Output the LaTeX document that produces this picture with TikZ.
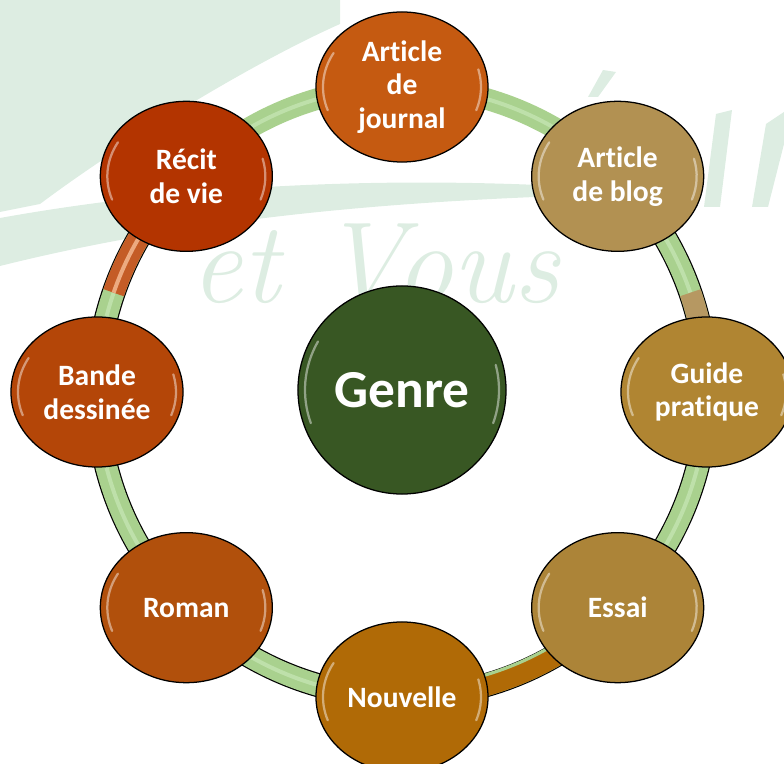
\documentclass[tikz,border=0pt]{standalone}
\usepackage{fontspec}
\usepackage{tikz}
\usetikzlibrary{calc}
\usetikzlibrary{shapes.geometric}
\usetikzlibrary{backgrounds}
\newfontfamily\calibri[Ligatures=NoCommon]{Carlito}
\definecolor{leaf}{RGB}{169, 209, 142}
\definecolor{leaflight}{RGB}{190, 224, 170}
\definecolor{watermark}{RGB}{221, 237, 226}
\definecolor{forest}{RGB}{56, 87, 35}
\definecolor{rust}{RGB}{179, 52, 0}
\definecolor{pumpkin}{RGB}{197, 90, 17}
\definecolor{khaki}{RGB}{178, 145, 82}
\definecolor{ochre}{RGB}{176, 133, 50}
\definecolor{bronze}{RGB}{172, 132, 56}
\definecolor{caramel}{RGB}{176, 106, 6}
\definecolor{copper}{RGB}{177, 80, 12}
\definecolor{brick}{RGB}{180, 70, 8}
\definecolor{copperband}{RGB}{196, 92, 38}
\definecolor{copperlight}{RGB}{236, 170, 128}
\definecolor{tanband}{RGB}{182, 152, 98}

\tikzset{
  bubble/.style={ellipse, draw=black, line width=0.9pt, minimum width=4.3cm, minimum height=3.75cm,
                 inner sep=0pt, text=white, align=center, font=\calibri\bfseries\fontsize{21}{24}\selectfont},
  hub/.style={circle, draw=black, line width=0.9pt, fill=forest, minimum size=5.2cm, inner sep=0pt,
              text=white, font=\calibri\bfseries\fontsize{38}{40}\selectfont},
  bandedge/.style={line width=0.6cm, draw=black},
  band/.style={line width=0.54cm, draw=leaf},
  stripe/.style={line width=0.1cm, draw=leaflight},
  gloss/.style={white, opacity=0.45, line width=1.6pt, line cap=round},
  wmtext/.style={text=watermark, font=\itshape\fontsize{82}{82}\selectfont, anchor=base west, inner sep=0pt},
}

\begin{document}
\begin{tikzpicture}[x=0.025cm, y=0.025cm]
  \useasboundingbox (0,0) rectangle (784,764);
  \coordinate (ring) at (402,372);

  % hub and genres
  \node[hub] (genre) at (402,374) {Genre};
  \node[bubble, fill=pumpkin]  (journal)  at ($(ring)+(90:305)$)   {Article\\de\\journal};
  \node[bubble, fill=khaki]    (blog)     at ($(ring)+(45:305)$)   {Article\\de blog};
  \node[bubble, fill=ochre]    (guide)    at ($(ring)+(0:305)$)    {Guide\\pratique};
  \node[bubble, fill=bronze]   (essai)    at ($(ring)+(-45:305)$)  {Essai};
  \node[bubble, fill=caramel]  (nouvelle) at ($(ring)+(-90:305)$)  {Nouvelle};
  \node[bubble, fill=copper]   (roman)    at ($(ring)+(-135:305)$) {Roman};
  \node[bubble, fill=brick]    (bande)    at ($(ring)+(180:305)$)  {Bande\\dessinée};
  \node[bubble, fill=rust]     (recit)    at ($(ring)+(135:305)$)  {Récit\\de vie};

  % glossy rims
  \foreach \n in {journal,blog,guide,essai,nouvelle,roman,bande,recit}{
    \draw[gloss] ($(\n.center)+(150:79 and 68)$) arc[start angle=150, end angle=200, x radius=79, y radius=68];
    \draw[gloss] ($(\n.center)+(-20:79 and 68)$) arc[start angle=-20, end angle=15, x radius=79, y radius=68];
  }
  \draw[gloss] ($(genre.center)+(150:97)$) arc[start angle=150, end angle=200, radius=97];
  \draw[gloss] ($(genre.center)+(-20:97)$) arc[start angle=-20, end angle=15, radius=97];

  \begin{scope}[on background layer]
    % watermark
    \fill[watermark] (0,764) -- (340,764) -- (340,740) .. controls (250,700) and (120,620) .. (40,560) -- (0,552) -- cycle;
    \fill[watermark] (0,546) .. controls (200,582) and (400,586) .. (560,578) -- (560,568) .. controls (400,562) and (200,548) .. (0,498) -- cycle;
    \fill[watermark] (588,667) -- (603,694) -- (616,692) -- (598,667) -- cycle;
    \fill[watermark] (704,557) -- (716,650) -- (732,654) -- (720,557) -- cycle;
    \fill[watermark] (752,557) -- (766,640) -- (784,652) -- (784,620) -- (768,557) -- cycle;
    \node[wmtext] (motto) at (190,461) {et Vous};

    % ring
    \foreach \a/\b in {recit/journal, journal/blog}{
      \draw[band] (\a.center) to[bend left=22.5, looseness=.885] (\b.center);
      \draw[stripe] (\a.center) to[bend left=22.5, looseness=.885] (\b.center);
    }
    \foreach \a/\b in {blog/guide, guide/essai, essai/nouvelle, nouvelle/roman, roman/bande, bande/recit}{
      \draw[bandedge] (\a.center) to[bend left=22.5, looseness=.885] (\b.center);
      \draw[band] (\a.center) to[bend left=22.5, looseness=.885] (\b.center);
      \draw[stripe] (\a.center) to[bend left=22.5, looseness=.885] (\b.center);
    }
    \draw[line width=0.54cm, copperband] (recit.center) arc[start angle=135, end angle=161, radius=305];
    \draw[line width=0.1cm, copperlight] (recit.center) arc[start angle=135, end angle=161, radius=305];
    \draw[line width=0.54cm, tanband] (guide.center) arc[start angle=0, end angle=19, radius=305];
    \draw[line width=0.54cm, caramel] (nouvelle.center) arc[start angle=-90, end angle=-45, radius=305];
    \draw[line width=0.08cm, leaf] ($(ring)+(-90:295)$) arc[start angle=-90, end angle=-45, radius=295];
  \end{scope}
\end{tikzpicture}
\end{document}
